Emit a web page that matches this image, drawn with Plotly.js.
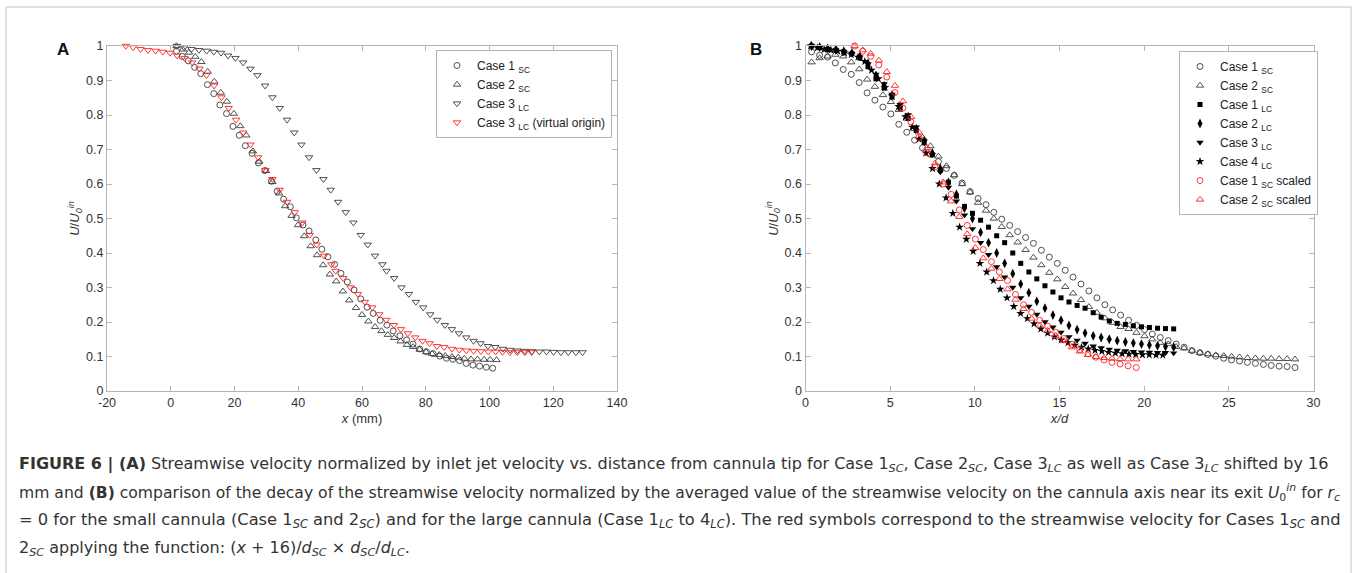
<!DOCTYPE html>
<html><head><meta charset="utf-8">
<script src="https://cdn.plot.ly/plotly-3.0.1.min.js"></script>
<style>html,body{margin:0;padding:0;background:#fff}#chart{width:1358px;height:573px}</style>
</head><body><div id="chart"></div>
<script>
// ---------- Panel A data ----------
const xA_case1 = [1.8, 3.6, 5.5, 7.5, 9.4, 11.5, 13.5, 15.4, 17.5, 19.5, 21.5, 23.4, 25.5, 27.5, 29.5, 31.6, 33.4, 35.4, 37.5, 39.4, 41.5, 43.4, 45.5, 47.4, 49.3, 51.4, 53.4, 55.4, 57.5, 59.6, 61.6, 63.5, 65.7, 67.8, 69.8, 71.9, 74.0, 76.0, 78.1, 80.2, 82.3, 84.4, 86.5, 88.5, 90.6, 92.7, 94.8, 96.9, 99.0, 101.0];
const yA_case1 = [0.985, 0.970, 0.957, 0.938, 0.920, 0.888, 0.862, 0.829, 0.804, 0.767, 0.741, 0.711, 0.689, 0.661, 0.639, 0.608, 0.579, 0.556, 0.534, 0.502, 0.481, 0.464, 0.438, 0.411, 0.389, 0.367, 0.341, 0.316, 0.293, 0.267, 0.243, 0.225, 0.205, 0.191, 0.174, 0.160, 0.148, 0.136, 0.122, 0.114, 0.108, 0.101, 0.095, 0.092, 0.088, 0.080, 0.075, 0.072, 0.069, 0.066];

const xA_case2 = [1.8, 3.8, 5.7, 7.7, 9.6, 11.6, 13.65, 15.7, 17.6, 19.8, 21.8, 23.7, 25.8, 27.8, 29.9, 31.9, 34.0, 35.9, 37.9, 39.9, 41.85, 43.9, 45.9, 47.8, 49.9, 51.9, 54.0, 56.0, 58.1, 60.0, 62.0, 64.1, 66.1, 68.1, 70.1, 72.1, 74.1, 76.05, 78.1, 80.1, 82.0, 84.2, 86.1, 88.2, 90.2, 92.1, 94.2, 96.2, 98.3, 100.2, 102.2];
const yA_case2 = [1.0, 0.990, 0.981, 0.969, 0.954, 0.926, 0.897, 0.865, 0.839, 0.804, 0.768, 0.741, 0.695, 0.665, 0.638, 0.606, 0.573, 0.536, 0.508, 0.481, 0.449, 0.420, 0.394, 0.365, 0.338, 0.318, 0.289, 0.263, 0.241, 0.221, 0.202, 0.186, 0.174, 0.163, 0.154, 0.144, 0.134, 0.128, 0.120, 0.113, 0.108, 0.105, 0.102, 0.099, 0.097, 0.094, 0.092, 0.092, 0.091, 0.091, 0.090];

const xA_case3 = [1.9, 4.2, 6.5, 8.85, 11.25, 13.5, 15.8, 18.0, 20.3, 22.7, 25.0, 27.2, 29.6, 31.9, 34.2, 36.5, 38.75, 41.0, 43.4, 45.7, 47.9, 50.2, 52.5, 54.9, 57.3, 59.6, 61.8, 64.1, 66.4, 67.7, 70.1, 72.4, 74.7, 76.9, 79.2, 81.4, 83.6, 86.0, 88.2, 90.4, 92.7, 95.0, 97.2, 99.5, 101.8, 104.2, 106.5, 108.75, 111.0, 113.3, 115.6, 117.9, 120.1, 122.4, 124.7, 127.1, 129.2];
const yA_case3 = [1.0, 0.996, 0.991, 0.988, 0.986, 0.983, 0.980, 0.972, 0.965, 0.952, 0.934, 0.915, 0.885, 0.851, 0.820, 0.786, 0.749, 0.714, 0.677, 0.640, 0.614, 0.583, 0.548, 0.518, 0.488, 0.452, 0.424, 0.392, 0.367, 0.348, 0.327, 0.300, 0.281, 0.258, 0.242, 0.222, 0.206, 0.191, 0.179, 0.167, 0.155, 0.145, 0.138, 0.130, 0.127, 0.122, 0.119, 0.117, 0.116, 0.115, 0.114, 0.114, 0.113, 0.112, 0.112, 0.112, 0.112];
// Case 3 LC with virtual origin (shifted by 16 mm), same velocities
const xA_case3v = [-14.1, -11.8, -9.5, -7.15, -4.75, -2.5, -0.2, 2.0, 4.3, 6.7, 9.0, 11.2, 13.6, 15.9, 18.2, 20.5, 22.75, 25.0, 27.4, 29.7, 31.9, 34.2, 36.5, 38.9, 41.3, 43.6, 45.8, 48.1, 50.4, 51.7, 54.1, 56.4, 58.7, 60.9, 63.2, 65.4, 67.6, 70.0, 72.2, 74.4, 76.7, 79.0, 81.2, 83.5, 85.8, 88.2, 90.5, 92.75, 95.0, 97.3, 99.6, 101.9, 104.1, 106.4, 108.7, 111.1, 113.2];
const yA_case3v = yA_case3;

// ---------- Panel B data ----------
const xB_sc = [0.36, 0.83, 1.30, 1.76, 2.23, 2.70, 3.17, 3.64, 4.10, 4.57, 5.04, 5.51, 5.98, 6.44, 6.91, 7.38, 7.85, 8.32, 8.78, 9.25, 9.72, 10.19, 10.66, 11.12, 11.59, 12.06, 12.53, 13.00, 13.46, 13.93, 14.40, 14.87, 15.34, 15.80, 16.27, 16.74, 17.21, 17.68, 18.14, 18.61, 19.08, 19.55, 20.02, 20.48, 20.95, 21.42, 21.89, 22.36, 22.82, 23.29, 23.76, 24.23, 24.70, 25.16, 25.63, 26.10, 26.57, 27.04, 27.50, 27.97, 28.44, 28.91];
const yB_case1sc = [0.983, 0.973, 0.968, 0.951, 0.932, 0.918, 0.894, 0.864, 0.843, 0.823, 0.803, 0.773, 0.750, 0.727, 0.705, 0.686, 0.665, 0.645, 0.625, 0.603, 0.578, 0.558, 0.540, 0.518, 0.498, 0.480, 0.462, 0.445, 0.428, 0.408, 0.388, 0.370, 0.350, 0.330, 0.310, 0.290, 0.270, 0.250, 0.235, 0.220, 0.205, 0.190, 0.178, 0.165, 0.155, 0.146, 0.136, 0.127, 0.117, 0.111, 0.106, 0.101, 0.095, 0.090, 0.087, 0.083, 0.080, 0.077, 0.074, 0.072, 0.071, 0.068];
const yB_case2sc = [0.953, 0.965, 0.970, 0.975, 0.970, 0.953, 0.933, 0.903, 0.882, 0.858, 0.838, 0.815, 0.790, 0.760, 0.735, 0.710, 0.680, 0.652, 0.626, 0.600, 0.576, 0.546, 0.523, 0.500, 0.476, 0.452, 0.431, 0.409, 0.387, 0.365, 0.343, 0.324, 0.302, 0.283, 0.264, 0.244, 0.227, 0.211, 0.198, 0.186, 0.180, 0.169, 0.159, 0.150, 0.140, 0.136, 0.128, 0.124, 0.117, 0.111, 0.107, 0.104, 0.102, 0.100, 0.098, 0.096, 0.095, 0.094, 0.094, 0.093, 0.093, 0.092];

const xB_lc = [0.36, 0.84, 1.31, 1.79, 2.26, 2.74, 3.21, 3.69, 4.16, 4.64, 5.11, 5.59, 6.06, 6.54, 7.01, 7.49, 7.96, 8.44, 8.91, 9.39, 9.86, 10.34, 10.81, 11.29, 11.76, 12.24, 12.71, 13.19, 13.66, 14.14, 14.61, 15.09, 15.56, 16.04, 16.51, 16.99, 17.46, 17.94, 18.41, 18.89, 19.36, 19.84, 20.31, 20.79, 21.26, 21.74];
const yB_case1lc = [1.0, 0.995, 0.99, 0.987, 0.983, 0.978, 0.965, 0.94, 0.905, 0.878, 0.852, 0.82, 0.79, 0.755, 0.72, 0.685, 0.64, 0.605, 0.565, 0.535, 0.515, 0.495, 0.475, 0.45, 0.43, 0.40, 0.37, 0.345, 0.325, 0.305, 0.287, 0.27, 0.258, 0.248, 0.24, 0.227, 0.214, 0.203, 0.196, 0.193, 0.189, 0.186, 0.184, 0.182, 0.181, 0.18];
const yB_case2lc = [1.0, 0.997, 0.993, 0.99, 0.985, 0.98, 0.97, 0.95, 0.915, 0.885, 0.858, 0.825, 0.795, 0.76, 0.725, 0.69, 0.645, 0.605, 0.57, 0.53, 0.5, 0.46, 0.43, 0.40, 0.37, 0.34, 0.31, 0.285, 0.26, 0.24, 0.22, 0.205, 0.19, 0.178, 0.168, 0.16, 0.155, 0.15, 0.146, 0.142, 0.139, 0.136, 0.133, 0.131, 0.129, 0.127];
const yB_case3lc = [1.0, 0.996, 0.992, 0.988, 0.984, 0.978, 0.968, 0.948, 0.918, 0.89, 0.86, 0.83, 0.8, 0.765, 0.725, 0.685, 0.635, 0.59, 0.55, 0.51, 0.47, 0.43, 0.395, 0.36, 0.33, 0.30, 0.27, 0.245, 0.222, 0.2, 0.185, 0.17, 0.157, 0.147, 0.138, 0.13, 0.125, 0.121, 0.118, 0.116, 0.114, 0.113, 0.112, 0.111, 0.111, 0.11];

const xB_case4lc = [0.30, 0.70, 1.10, 1.50, 1.90, 2.30, 2.70, 3.10, 3.50, 3.90, 4.30, 4.70, 5.10, 5.50, 5.90, 6.30, 6.70, 7.10, 7.50, 7.90, 8.30, 8.70, 9.10, 9.50, 9.90, 10.30, 10.70, 11.10, 11.50, 11.90, 12.30, 12.70, 13.10, 13.50, 13.90, 14.30, 14.70, 15.10, 15.50, 15.90, 16.30, 16.70, 17.10, 17.50, 17.90, 18.30, 18.70, 19.10, 19.50, 19.90, 20.30, 20.70, 21.10];
const yB_case4lc = [1.0, 0.995, 0.99, 0.988, 0.985, 0.98, 0.975, 0.968, 0.955, 0.93, 0.905, 0.88, 0.855, 0.825, 0.795, 0.765, 0.73, 0.69, 0.645, 0.60, 0.56, 0.515, 0.475, 0.44, 0.405, 0.37, 0.345, 0.32, 0.295, 0.27, 0.245, 0.225, 0.21, 0.195, 0.18, 0.168, 0.157, 0.148, 0.14, 0.133, 0.127, 0.122, 0.118, 0.115, 0.112, 0.11, 0.108, 0.107, 0.106, 0.105, 0.105, 0.104, 0.104];

const xB_scaled = [2.90, 3.38, 3.85, 4.33, 4.80, 5.28, 5.75, 6.23, 6.70, 7.18, 7.65, 8.13, 8.60, 9.08, 9.55, 10.03, 10.50, 10.98, 11.45, 11.93, 12.40, 12.88, 13.35, 13.83, 14.30, 14.78, 15.25, 15.73, 16.20, 16.68, 17.15, 17.63, 18.10, 18.58, 19.05, 19.53];
const yB_case1scaled = [1.0, 0.985, 0.97, 0.945, 0.91, 0.865, 0.82, 0.78, 0.735, 0.69, 0.65, 0.6, 0.57, 0.525, 0.48, 0.44, 0.41, 0.375, 0.345, 0.32, 0.28, 0.25, 0.228, 0.205, 0.188, 0.17, 0.152, 0.135, 0.12, 0.108, 0.098, 0.09, 0.083, 0.078, 0.073, 0.068];
const yB_case2scaled = [1.0, 0.988, 0.978, 0.958, 0.925, 0.885, 0.84, 0.795, 0.75, 0.705, 0.66, 0.605, 0.55, 0.505, 0.455, 0.415, 0.385, 0.355, 0.325, 0.295, 0.265, 0.238, 0.21, 0.19, 0.175, 0.16, 0.145, 0.127, 0.115, 0.105, 0.099, 0.096, 0.094, 0.093, 0.092, 0.092];

// ---------- ticks ----------
const tickA_x = [-20, 0, 20, 40, 60, 80, 100, 120, 140];
const tickB_x = [0, 5, 10, 15, 20, 25, 30];
const tickY = [0, 0.1, 0.2, 0.3, 0.4, 0.5, 0.6, 0.7, 0.8, 0.9, 1];

// ---------- styles ----------
const GRAY = '#3c3c3c', RED = '#ff2020';
const FONT = 'Liberation Sans, Arial, Helvetica, sans-serif';
const CAPFONT = 'DejaVu Sans, Verdana, sans-serif';
function openM(sym, color, size) {
  return {symbol: sym, size: size, color: color, line: {color: color, width: 0.9}};
}
function filledM(sym, size) {
  return {symbol: sym, size: size, color: '#000', line: {color: '#000', width: 0}};
}
function tr(x, y, name, marker, ax, legend) {
  return {x: x, y: y, name: name, type: 'scatter', mode: 'markers', marker: marker,
    xaxis: ax[0], yaxis: ax[1], legend: legend, cliponaxis: false, hoverinfo: 'x+y'};
}
const A = ['x', 'y'], B = ['x2', 'y2'];
const traces = [
  tr(xA_case1, yA_case1, 'Case 1 <sub>SC</sub>', openM('circle-open', GRAY, 6), A, 'legend'),
  tr(xA_case2, yA_case2, 'Case 2 <sub>SC</sub>', openM('triangle-up-open', GRAY, 6.5), A, 'legend'),
  tr(xA_case3, yA_case3, 'Case 3 <sub>LC</sub>', openM('triangle-down-open', GRAY, 6.5), A, 'legend'),
  tr(xA_case3v, yA_case3v, 'Case 3 <sub>LC</sub> (virtual origin)', openM('triangle-down-open', RED, 6.5), A, 'legend'),

  tr(xB_sc, yB_case1sc, 'Case 1 <sub>SC</sub>', openM('circle-open', GRAY, 6), B, 'legend2'),
  tr(xB_sc, yB_case2sc, 'Case 2 <sub>SC</sub>', openM('triangle-up-open', GRAY, 6.5), B, 'legend2'),
  tr(xB_lc, yB_case1lc, 'Case 1 <sub>LC</sub>', filledM('square', 5), B, 'legend2'),
  tr(xB_lc, yB_case2lc, 'Case 2 <sub>LC</sub>', filledM('diamond-tall', 7), B, 'legend2'),
  tr(xB_lc, yB_case3lc, 'Case 3 <sub>LC</sub>', filledM('triangle-down', 6.5), B, 'legend2'),
  tr(xB_case4lc, yB_case4lc, 'Case 4 <sub>LC</sub>', filledM('star', 6.5), B, 'legend2'),
  tr(xB_scaled, yB_case1scaled, 'Case 1 <sub>SC</sub> scaled', openM('circle-open', RED, 6), B, 'legend2'),
  tr(xB_scaled, yB_case2scaled, 'Case 2 <sub>SC</sub> scaled', openM('triangle-up-open', RED, 6.5), B, 'legend2')
];

const W = 1358, H = 573;
const px = v => v / W, py = v => 1 - v / H;
function axis(extra) {
  return Object.assign({
    showline: true, mirror: 'ticks', linecolor: '#b4b4b4', linewidth: 1,
    ticks: 'inside', ticklen: 5, tickcolor: '#b4b4b4', tickwidth: 1,
    showgrid: false, zeroline: false, fixedrange: true,
    tickfont: {family: FONT, size: 12.5, color: '#333'}
  }, extra);
}
const yTitle = '<i>U</i>/<i>U</i><sub><i>0</i></sub><sup><i>in</i></sup>';
const legendStyle = {
  bgcolor: '#fff', bordercolor: '#b4b4b4', borderwidth: 1,
  font: {family: FONT, size: 12, color: '#222'}, xanchor: 'left', yanchor: 'top',
  tracegroupgap: 0, itemsizing: 'trace', itemwidth: 30
};
function cap(y, size, text) {
  return {xref: 'paper', yref: 'paper', x: px(17), y: py(y), xanchor: 'left', yanchor: 'middle',
    showarrow: false, align: 'left', text: text, font: {family: CAPFONT, size: size, color: '#333'}};
}
const layout = {
  width: W, height: H, margin: {l: 0, r: 0, t: 0, b: 0},
  paper_bgcolor: '#fff', plot_bgcolor: '#fff', showlegend: true,
  xaxis: axis({domain: [px(107), px(617)], range: [-20, 140], tickvals: tickA_x, ticktext: tickA_x.map(String),
    title: {text: '<i>x</i> (mm)', font: {family: FONT, size: 13, color: '#333'}, standoff: 4}, anchor: 'y'}),
  yaxis: axis({domain: [py(391), py(46)], range: [0, 1], tickvals: tickY, ticktext: tickY.map(String),
    title: {text: yTitle, font: {family: FONT, size: 13, color: '#333'}, standoff: 3}, anchor: 'x'}),
  xaxis2: axis({domain: [px(805.5), px(1313.5)], range: [0, 30], tickvals: tickB_x, ticktext: tickB_x.map(String),
    title: {text: '<i>x/d</i>', font: {family: FONT, size: 13, color: '#333'}, standoff: 4}, anchor: 'y2'}),
  yaxis2: axis({domain: [py(391), py(46)], range: [0, 1], tickvals: tickY, ticktext: tickY.map(String),
    title: {text: yTitle, font: {family: FONT, size: 13, color: '#333'}, standoff: 3}, anchor: 'x2'}),
  legend: Object.assign({x: px(436), y: py(50)}, legendStyle),
  legend2: Object.assign({x: px(1179), y: py(51)}, legendStyle),
  shapes: [
    {type: 'rect', xref: 'paper', yref: 'paper', x0: px(6), x1: px(1351), y0: -0.05, y1: py(7),
      line: {color: '#c4c4c4', width: 1}, fillcolor: 'rgba(0,0,0,0)', layer: 'below'}
  ],
  annotations: [
    {xref: 'paper', yref: 'paper', x: px(55), y: py(38), text: '<b>A</b>', showarrow: false,
      font: {family: FONT, size: 17, color: '#111'}},
    {xref: 'paper', yref: 'paper', x: px(756), y: py(38), text: '<b>B</b>', showarrow: false,
      font: {family: FONT, size: 17, color: '#111'}},
    cap(464, 16, '<b>FIGURE 6 | (A)</b> Streamwise velocity normalized by inlet jet velocity vs. distance from cannula tip for Case 1<sub><i>SC</i></sub>, Case 2<sub><i>SC</i></sub>, Case 3<sub><i>LC</i></sub> as well as Case 3<sub><i>LC</i></sub> shifted by 16'),
    cap(492, 15.6, 'mm and <b>(B)</b> comparison of the decay of the streamwise velocity normalized by the averaged value of the streamwise velocity on the cannula axis near its exit <i>U</i><sub>0</sub><sup><i>in</i></sup> for <i>r<sub>c</sub></i>'),
    cap(520, 16.3, '= 0 for the small cannula (Case 1<sub><i>SC</i></sub> and 2<sub><i>SC</i></sub>) and for the large cannula (Case 1<sub><i>LC</i></sub> to 4<sub><i>LC</i></sub>). The red symbols correspond to the streamwise velocity for Cases 1<sub><i>SC</i></sub> and'),
    cap(548, 16, '2<sub><i>SC</i></sub> applying the function: (<i>x</i> + 16)/<i>d</i><sub><i>SC</i></sub> × <i>d</i><sub><i>SC</i></sub>/<i>d</i><sub><i>LC</i></sub>.')
  ]
};
Plotly.newPlot('chart', traces, layout, {displayModeBar: false, staticPlot: true});
</script></body></html>
